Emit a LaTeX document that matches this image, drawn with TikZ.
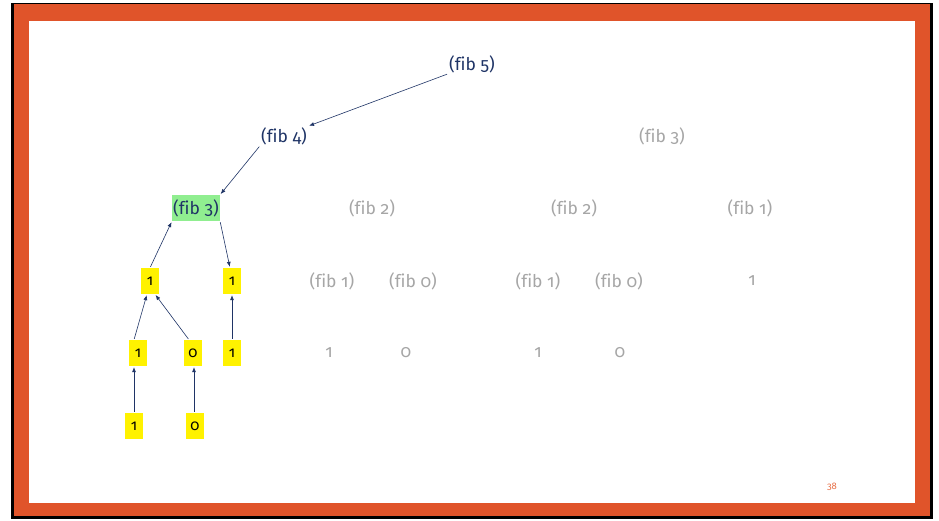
\documentclass[tikz,border=0pt]{standalone}
\usepackage{fontspec}
\setmainfont[Numbers=OldStyle, Ligatures=NoCommon]{Fira Sans}
\usetikzlibrary{arrows.meta,positioning}
\definecolor{slideorange}{RGB}{224,84,42}
\definecolor{pagenum}{RGB}{232,112,72}
\definecolor{navy}{RGB}{31,52,102}
\definecolor{dimgray}{RGB}{166,166,166}
\definecolor{hotgreen}{RGB}{144,238,144}
\tikzset{
  call/.style={-{Latex[length=5pt,width=4pt]}, navy, line width=0.6pt, shorten >=1pt, shorten <=1pt},
  live/.style={text=navy, font=\fontsize{17.5}{19}\selectfont, inner sep=1pt},
  dead/.style={text=dimgray, font=\fontsize{17.5}{19}\selectfont, inner sep=1pt},
  leaf/.style={fill=yellow, text=black, font=\fontsize{15}{17}\selectfont, minimum width=18pt, minimum height=26pt, inner sep=0pt},
  hot/.style={live, fill=hotgreen, minimum height=26pt, inner sep=1pt},
}

\begin{document}
\begin{tikzpicture}[x=1pt, y=-1pt]

  % Slide frame
  \useasboundingbox (0,0) rectangle (939,520);
  \fill[black] (11,3) rectangle (933,519);
  \fill[slideorange] (14,4) rectangle (930,516);
  \fill[white] (29,21) rectangle (915,503);
  \node[text=pagenum, font=\fontsize{9.5}{10}\selectfont] (page) at (832,487) {38};

  % Calls, top to bottom
  \node[live] (f5) at (472,64) {(fib 5)};
  \node[live] (f4) at (284,136) {(fib 4)};
  \node[dead] (g3) at (662,136) {(fib 3)};
  \node[hot] (f3) at (196,208) {(fib 3)};
  \node[dead] (g2a) at (372,208) {(fib 2)};
  \node[dead] (g2b) at (574,208) {(fib 2)};
  \node[dead] (g1a) at (750,208) {(fib 1)};

  % Values already returned
  \node[leaf] (v1a) at (150,281) {1};
  \node[leaf] (v1b) at (232,281) {1};
  \node[dead] (g1b) at (332,281) {(fib 1)};
  \node[dead] (g0b) at (413,281) {(fib 0)};
  \node[dead] (g1c) at (538,281) {(fib 1)};
  \node[dead] (g0c) at (619,281) {(fib 0)};
  \node[dead] (gv1a) at (752,281) {1};

  \node[leaf] (v1c) at (138,353) {1};
  \node[leaf] (v0a) at (193,353) {0};
  \node[leaf] (v1d) at (232,353) {1};
  \node[dead] (gv1b) at (329,353) {1};
  \node[dead] (gv0b) at (406,353) {0};
  \node[dead] (gv1c) at (538,353) {1};
  \node[dead] (gv0c) at (620,353) {0};

  \node[leaf] (v1e) at (134,426) {1};
  \node[leaf] (v0b) at (195,426) {0};

  % Arrows
  \draw[call] (f5.south west) -- (f4.north east);
  \draw[call] (f4.south west) -- (f3.north east);
  \draw[call] (f3.south east) -- ([xshift=-2pt]v1b.north);
  \draw[call] (v1a.north) -- (f3.south west);
  \draw[call] ([xshift=-4pt]v1c.north) -- ([xshift=-3pt]v1a.south);
  \draw[call] ([xshift=-4pt]v0a.north) -- ([xshift=5pt]v1a.south);
  \draw[call] (v1d.north) -- (v1b.south);
  \draw[call] (v1e.north) -- (v1e.north |- v1c.south);
  \draw[call] ([xshift=-1pt]v0b.north) -- ([xshift=-1pt]v0b.north |- v0a.south);

\end{tikzpicture}
\end{document}
